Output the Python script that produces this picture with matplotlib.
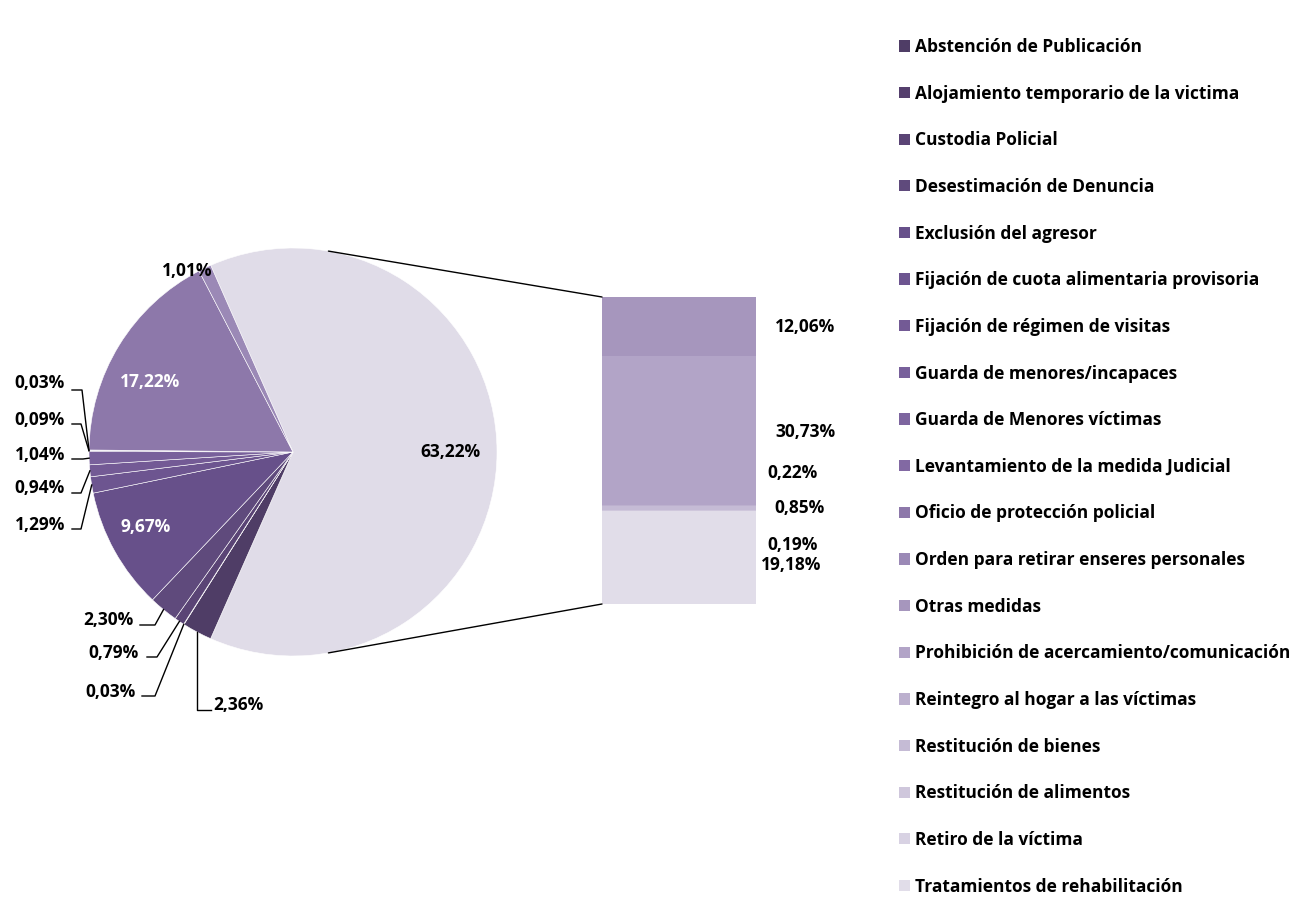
import numpy as np
import matplotlib.pyplot as plt
from matplotlib.patches import ConnectionPatch, Patch

plt.rcParams["font.family"] = ["Open Sans", "DejaVu Sans"]
plt.rcParams["font.weight"] = "bold"

categories = [
    "Abstención de Publicación",
    "Alojamiento temporario de la victima",
    "Custodia Policial",
    "Desestimación de Denuncia",
    "Exclusión del agresor",
    "Fijación de cuota alimentaria provisoria",
    "Fijación de régimen de visitas",
    "Guarda de menores/incapaces",
    "Guarda de Menores víctimas",
    "Levantamiento de la medida Judicial",
    "Oficio de protección policial",
    "Orden para retirar enseres personales",
    "Otras medidas",
    "Prohibición de acercamiento/comunicación",
    "Reintegro al hogar a las víctimas",
    "Restitución de bienes",
    "Restitución de alimentos",
    "Retiro de la víctima",
    "Tratamientos de rehabilitación",
]
values = [2.36, 0.03, 0.79, 2.30, 9.67, 1.29, 0.94, 1.04, 0.09, 0.03, 17.22, 1.01,
          12.06, 30.73, 0.22, 0.85, 0.19, 0.00, 19.18]
colors = ["#4f3d66", "#553f6d", "#5a4475", "#5f4a7c", "#67508a", "#6d5590", "#735a95",
          "#78609b", "#7d659f", "#8269a3", "#8d78aa", "#9b89b6", "#a696bd", "#b2a4c7",
          "#bcb0ce", "#c5bbd5", "#cfc7dc", "#d8d2e3", "#e1dde9"]
n_pie = 12  # first 12 in the pie, rest in the bar

pie_vals = values[:n_pie]
bar_vals = values[n_pie:]
other = round(sum(bar_vals), 2)

fig = plt.figure(figsize=(13.05, 9.19), dpi=100)
W, H = 1305, 919

# pie axes: centre (293, 452) px, radius 204 px
R_PX = 204
lim = 293 / R_PX
ax = fig.add_axes([0, (H - 452 - 293) / H, 586 / W, 586 / H])

sizes = [63.22] + pie_vals
pcolors = ["#e0dce8"] + colors[:n_pie]
start = 63.22 / 2 * 3.6
wedges, _ = ax.pie(sizes, colors=pcolors, startangle=start, counterclock=False, radius=1,
                   wedgeprops=dict(edgecolor="white", linewidth=0.4))
ax.set_xlim(-lim, lim)
ax.set_ylim(-lim, lim)
ax.axis("off")

def px(x, y):
    return ((x - 293) / R_PX, (452 - y) / R_PX)

# mid angles
mids = []
ang = start
for s in sizes:
    span = s * 360 / sum(sizes)
    mids.append(ang - span / 2)
    ang -= span

def fmt(v):
    return f"{v:.2f}%".replace(".", ",")

fs = 12.5
# inside labels
inside = {0: ("black", 0.77, 0), 5: ("white", 0.81, -2), 11: ("white", 0.78, 5.5)}
for i, (c, r, da) in inside.items():
    a = np.deg2rad(mids[i] + da)
    ax.text(r * np.cos(a), r * np.sin(a), fmt(sizes[i]), color=c,
            ha="center", va="center", fontsize=fs, fontweight="bold")

# outside labels with elbow leaders: index -> (text right x, text y, knee x0, knee x1, line y) in px
outside = {
    10: (65, 383, 72, 82, 390),
    9: (65, 420, 72, 81, 424),
    8: (65, 455, 72, 83, 459),
    7: (65, 488, 72, 81, 493),
    6: (65, 525, 72, 81, 529),
    4: (134, 620, 140, 155, 625),
    3: (139, 653, 147, 157, 657),
    2: (136, 692, 142, 155, 696),
}
for i, (tx, ty, k0, k1, ly) in outside.items():
    a = np.deg2rad(mids[i])
    ax.text(*px(tx, ty), fmt(sizes[i]), ha="right", va="center", fontsize=fs, fontweight="bold")
    p0, p1 = px(k0, ly), px(k1, ly)
    ax.plot([p0[0], p1[0], np.cos(a)], [p0[1], p1[1], np.sin(a)], color="black", lw=1)

# Abstención: vertical leader then right
a = np.deg2rad(mids[1])
ax.text(*px(213, 705), fmt(sizes[1]), ha="left", va="center", fontsize=fs, fontweight="bold")
k = px(0, 710)
ax.plot([np.cos(a), np.cos(a), px(211, 0)[0]], [np.sin(a), k[1], k[1]], color="black", lw=1)
# Orden: no leader
ax.text(*px(187, 271), fmt(sizes[12]), ha="center", va="center", fontsize=fs, fontweight="bold")

# bar axes: x 602-756, y 297-604 px
bax = fig.add_axes([602 / W, (H - 604) / H, 154 / W, 307 / H])
bottom = 0
for v, c in zip(bar_vals, colors[n_pie:]):
    bax.bar(0, v, bottom=bottom, width=1, color=c, linewidth=0)
    bottom += v
bax.set_xlim(-0.5, 0.5)
bax.set_ylim(other, 0)
bax.axis("off")

# bar labels (x in bar widths, y in data units)
bar_label_pos = [(0.82, 6.2), (0.82, 27.8), (0.74, 36.2), (0.78, 43.4), (0.74, 51.1), None, (0.73, 55.2)]
for v, pos in zip(bar_vals, bar_label_pos):
    if pos is None:
        continue
    bax.text(pos[0], pos[1], fmt(v), ha="center", va="center", fontsize=fs,
             fontweight="bold", clip_on=False)

# connectors
for sign, yb in [(1, 0), (-1, other)]:
    a = np.deg2rad(80 * sign)
    con = ConnectionPatch(xyA=(np.cos(a), np.sin(a)), coordsA=ax.transData,
                          xyB=(-0.5, yb), coordsB=bax.transData, color="black", lw=1)
    fig.add_artist(con)

handles = [Patch(facecolor=c, edgecolor="none") for c in colors]
fig.legend(handles, categories, loc="upper left", bbox_to_anchor=(899 / W, 1 - 38 / H),
           frameon=False, handlelength=0.62, handleheight=0.62,
           handletextpad=0.3, labelspacing=1.65, borderpad=0, borderaxespad=0,
           prop=dict(weight="bold", size=fs))

fig.savefig("out.png", dpi=100)
